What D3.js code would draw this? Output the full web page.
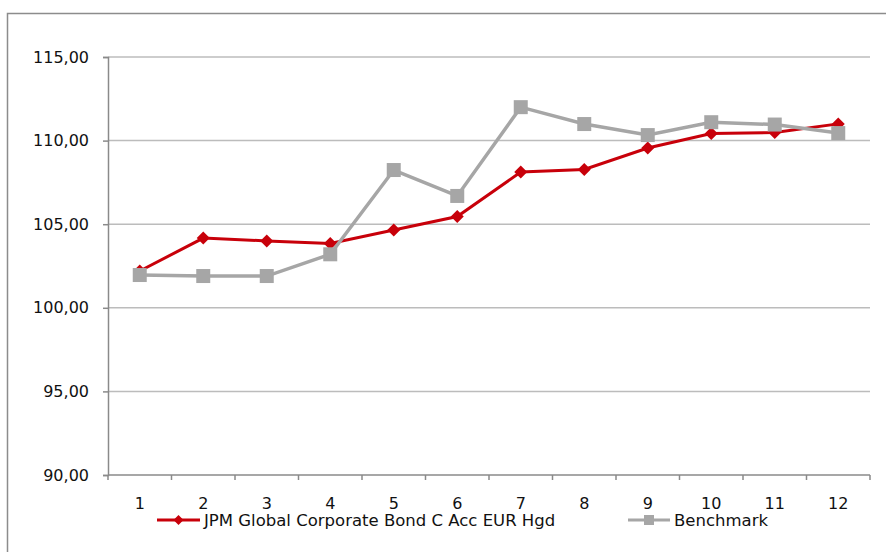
<!DOCTYPE html>
<html><head><meta charset="utf-8">
<script src="https://cdn.jsdelivr.net/npm/d3@7"></script>
<style>body{margin:0;background:#fff}svg{display:block}</style>
</head><body>
<script>
const categories = [1,2,3,4,5,6,7,8,9,10,11,12];
const fundName = "JPM Global Corporate Bond C Acc EUR Hgd";
const fundValues = [102.2,104.17,104.0,103.85,104.65,105.46,108.12,108.27,109.56,110.42,110.48,111.0];
const benchName = "Benchmark";
const benchValues = [101.96,101.9,101.9,103.2,108.24,106.69,112.0,110.99,110.33,111.1,110.96,110.45];
const yTicks = [90,95,100,105,110,115];

const W=886,H=552;
const svg=d3.select("body").append("svg").attr("width",W).attr("height",H);
const font="DejaVu Sans, Verdana, sans-serif";
svg.append("rect").attr("x",7.5).attr("y",13.5).attr("width",890).attr("height",560)
  .attr("fill","none").attr("stroke","#8c8c8c").attr("stroke-width",1.5);

const L=108,R=870,T=57,B=475;
const x=d3.scaleBand().domain(categories).range([L,R]);
const y=d3.scaleLinear().domain([90,115]).range([B,T]);
const axisColor="#8a8a8a";

svg.append("g").selectAll("line").data(yTicks.filter(d=>d>90)).join("line")
  .attr("x1",L).attr("x2",R).attr("y1",d=>y(d)).attr("y2",d=>y(d))
  .attr("stroke","#bcbcbc").attr("stroke-width",1.5);

const fmt=d=>d3.format(".2f")(d).replace(".",",");
const yAxis=svg.append("g").attr("transform",`translate(${L},0)`)
  .call(d3.axisLeft(y).tickValues(yTicks).tickFormat(fmt).tickSize(5).tickPadding(14));
yAxis.select(".domain").attr("stroke",axisColor).attr("stroke-width",1.5);
yAxis.selectAll(".tick line").attr("stroke",axisColor).attr("stroke-width",1.5);
yAxis.selectAll("text").attr("font-family",font).attr("font-size",16).attr("fill","#111");

const xAxis=svg.append("g").attr("transform",`translate(0,${B})`);
xAxis.append("line").attr("x1",L).attr("x2",R).attr("stroke",axisColor).attr("stroke-width",1.5);
const edges=categories.map(c=>x(c)).concat([R]);
xAxis.selectAll("line.tk").data(edges).join("line").attr("class","tk")
  .attr("x1",d=>d).attr("x2",d=>d).attr("y1",0).attr("y2",5)
  .attr("stroke",axisColor).attr("stroke-width",1.5);
xAxis.selectAll("text").data(categories).join("text")
  .attr("x",d=>x(d)+x.bandwidth()/2).attr("y",34).attr("text-anchor","middle")
  .attr("font-family",font).attr("font-size",16).attr("fill","#111").text(d=>d);

const cx=d=>x(d)+x.bandwidth()/2;
const line=d3.line().x((d,i)=>cx(categories[i])).y(d=>y(d));
const red="#c8000a", gray="#a6a6a6";

function diamond(g,px,py,s){g.append("path").attr("d",`M${px},${py-s}L${px+s},${py}L${px},${py+s}L${px-s},${py}Z`).attr("fill",red);}
function square(g,px,py,s){g.append("rect").attr("x",px-s).attr("y",py-s).attr("width",2*s).attr("height",2*s).attr("fill",gray);}

const gF=svg.append("g");
gF.append("path").datum(fundValues).attr("d",line).attr("fill","none").attr("stroke",red).attr("stroke-width",3);
fundValues.forEach((v,i)=>diamond(gF,cx(categories[i]),y(v),6.5));
const gB=svg.append("g");
gB.append("path").datum(benchValues).attr("d",line).attr("fill","none").attr("stroke",gray).attr("stroke-width",3.5);
benchValues.forEach((v,i)=>square(gB,cx(categories[i]),y(v),7));

const lg=svg.append("g");
lg.append("line").attr("x1",157).attr("x2",200).attr("y1",520).attr("y2",520).attr("stroke",red).attr("stroke-width",3);
diamond(lg,178.5,520,5);
lg.append("text").attr("x",204).attr("y",526).attr("font-family",font).attr("font-size",16.5).attr("fill","#111").text(fundName);
lg.append("line").attr("x1",628).attr("x2",670).attr("y1",520).attr("y2",520).attr("stroke",gray).attr("stroke-width",3);
square(lg,649,520,5);
lg.append("text").attr("x",674).attr("y",526).attr("font-family",font).attr("font-size",16.5).attr("fill","#111").text(benchName);
</script>
</body></html>
